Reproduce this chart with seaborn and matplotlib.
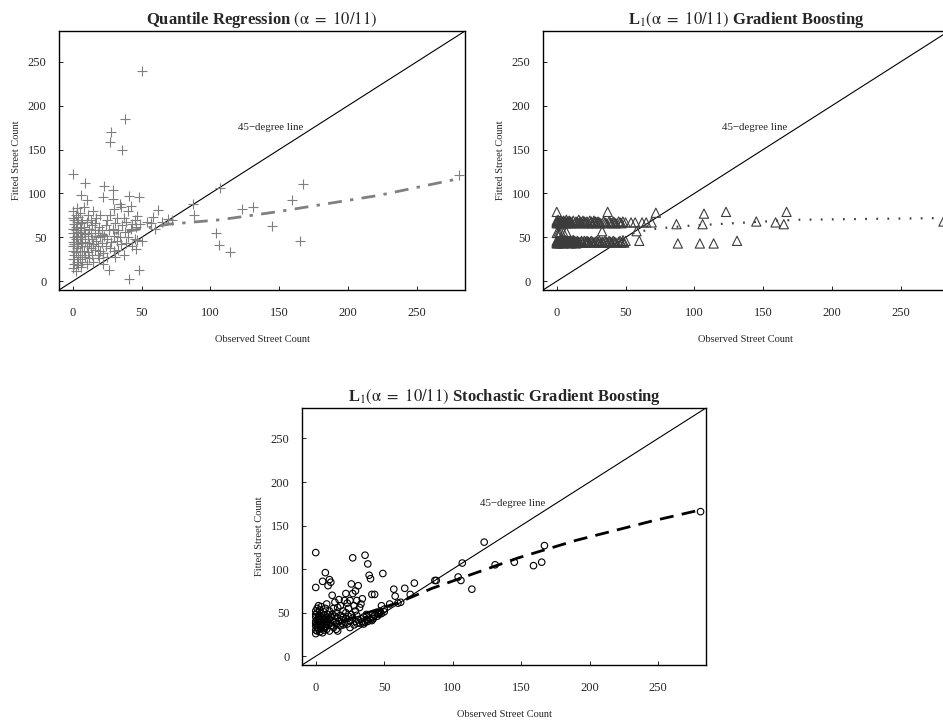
import matplotlib
matplotlib.use("Agg")
import matplotlib.pyplot as plt
import numpy as np
import pandas as pd
import seaborn as sns

# ── Data ──────────────────────────────────────────────────────────────────────
# observed street counts, shared by all three panels
OBSERVED = [
    0, 0, 0, 0, 0, 0, 0, 0, 0, 0,
    1, 1, 1, 1, 1, 1,
    2, 2, 2, 2, 2, 2,
    3, 3, 3, 3, 3, 3,
    4, 4, 4, 4, 4,
    5, 5, 5, 5, 5,
    6, 6, 6, 6, 6,
    7, 7, 7, 7, 7,
    8, 8, 8, 8,
    9, 9, 9, 9,
    10, 10, 10, 10,
    11, 11, 11, 12, 12, 12, 13, 13, 13, 14, 14, 14, 15, 15, 15, 16, 16, 16,
    17, 17, 18, 18, 18, 19, 19, 20, 20, 20, 21, 21, 22, 22, 22, 23, 23,
    24, 24, 25, 25, 25, 26, 26, 27, 27, 27, 28, 28, 29, 29, 29, 30, 30, 30,
    31, 31, 32, 32, 33, 33, 34, 34, 35, 35, 36, 36, 37, 37, 38, 38, 39, 39,
    40, 40, 41, 41, 42, 42, 43, 43, 45, 45, 46, 46, 47, 47, 48, 48, 49, 50, 50,
    54, 57, 58, 60, 62, 65, 69, 72, 87, 88,
    104, 106, 107, 114, 123, 131, 145, 159, 165, 167, 281,
]

FITTED_QR = [
    45, 60, 72, 35, 122, 25, 55, 80, 15, 40,
    50, 65, 30, 20, 70, 42,
    58, 12, 48, 75, 33, 62,
    52, 22, 83, 38, 67, 45,
    28, 56, 18, 73, 42,
    61, 35, 50, 25, 78,
    44, 98, 16, 66, 55,
    30, 48, 70, 40, 22,
    58, 85, 35, 62,
    112, 45, 28, 54,
    93, 68, 40, 20,
    52, 75, 33, 60, 44, 26, 70, 38, 55, 48, 30, 64, 42, 80, 22, 58, 36, 66,
    46, 72, 30, 55, 40, 62, 26, 50, 35, 76, 44, 58, 96, 32, 20, 108, 52,
    64, 40, 28, 70, 48, 13, 58, 159, 38, 75, 170, 45, 104, 94, 60, 35, 82, 52,
    66, 28, 46, 72, 58, 36, 88, 50, 85, 42, 150, 64, 72, 30, 185, 56, 44, 68,
    80, 50, 97, 3, 86, 60, 40, 65, 70, 48, 37, 62, 47, 74, 96, 13, 65, 240, 46,
    67, 66, 73, 60, 81, 68, 71, 70, 88, 76,
    55, 41, 106, 33, 82, 85, 63, 93, 46, 111, 121,
]

FITTED_GB = [
    44, 67, 46, 68, 79, 45, 55, 66, 43, 69,
    46, 67, 55, 44, 70, 45,
    68, 43, 46, 66, 55, 44,
    67, 45, 69, 44, 56, 46,
    66, 44, 47, 68, 45,
    67, 43, 55, 46, 69,
    44, 66, 45, 68, 47,
    67, 44, 56, 46, 70,
    45, 68, 44, 66,
    67, 46, 44, 69,
    68, 45, 43, 66,
    46, 67, 44, 69, 45, 47, 66, 44, 46, 68, 45, 43, 67, 46, 44, 70, 45, 66,
    44, 68, 46, 67, 45, 69, 44, 66, 46, 68, 45, 67, 68, 44, 46, 66, 45,
    69, 44, 67, 46, 68, 45, 66, 67, 44, 69, 68, 45, 66, 46, 67, 44, 68, 45,
    67, 46, 44, 66, 57, 45, 68, 44, 67, 46, 66, 45, 79, 44, 68, 46, 67, 45,
    66, 44, 68, 46, 67, 45, 66, 44, 68, 45, 67, 46, 66, 44, 68, 45, 44, 67, 46,
    67, 67, 57, 46, 67, 67, 67, 78, 65, 43,
    43, 65, 77, 43, 79, 46, 68, 67, 65, 79, 68,
]

FITTED_SGB = [
    30, 40, 52, 35, 119, 26, 45, 79, 38, 48,
    33, 42, 55, 29, 37, 50,
    44, 31, 36, 58, 47, 40,
    34, 43, 53, 28, 39, 46,
    36, 49, 41, 32, 57,
    86, 27, 38, 45, 35,
    51, 42, 34, 30, 47,
    96, 39, 44, 33, 55,
    37, 60, 42, 31,
    81, 48, 36, 40,
    88, 43, 29, 52,
    85, 45, 38, 70, 35, 48, 41, 55, 33, 62, 39, 46, 37, 50, 31, 29, 44, 56,
    40, 65, 35, 47, 58, 38, 42, 52, 36, 45, 64, 39, 72, 43, 50, 61, 37,
    46, 55, 64, 41, 33, 83, 48, 113, 72, 44, 58, 36, 75, 40, 52, 64, 38, 47,
    81, 42, 38, 56, 43, 60, 40, 66, 45, 37, 116, 39, 48, 42, 106, 40, 93, 44,
    89, 42, 41, 71, 45, 43, 71, 47, 49, 46, 50, 48, 52, 50, 58, 49, 95, 54, 51,
    60, 77, 69, 61, 62, 78, 71, 84, 87, 87,
    91, 87, 107, 77, 131, 105, 108, 104, 108, 127, 166,
]

# smoothed fits drawn through each panel
QR_FIT_X = [15, 36, 70, 107, 148, 223, 281]
QR_FIT_Y = [50, 56, 65, 70, 79, 98, 117]
GB_FIT_X = [40, 44, 58, 73, 94, 116, 174, 281]
GB_FIT_Y = [46, 49, 56, 60, 63, 65, 70, 72]
SGB_FIT_X = [20, 34, 61, 85, 112, 148, 190, 245, 281]
SGB_FIT_Y = [40, 48, 62, 78, 93, 113, 133, 155, 168]

TICKS = [0, 50, 100, 150, 200, 250]
LIMITS = (-10, 285)

TITLES = [
    r"Quantile Regression $(\mathrm{\alpha}\ =\ 10/11)$",
    r"L$_1(\mathrm{\alpha}\ =\ 10/11)$ Gradient Boosting",
    r"L$_1(\mathrm{\alpha}\ =\ 10/11)$ Stochastic Gradient Boosting",
]

# ── Style ────────────────────────────────────────────────────────────────────
sns.set_style("ticks")
plt.rcParams["font.family"] = ["Liberation Serif", "DejaVu Serif"]
plt.rcParams["mathtext.fontset"] = "stix"

df = pd.DataFrame({
    "observed": OBSERVED,
    "qr": FITTED_QR,
    "gb": FITTED_GB,
    "sgb": FITTED_SGB,
})

fig = plt.figure(figsize=(9.43, 7.2), dpi=100)
ax1 = fig.add_axes([0.0626, 0.5972, 0.4305, 0.3597])
ax2 = fig.add_axes([0.5758, 0.5972, 0.4305, 0.3597])
ax3 = fig.add_axes([0.3203, 0.0764, 0.4284, 0.3570])

# panel 1: quantile regression
sns.scatterplot(data=df, x="observed", y="qr", ax=ax1, marker="+",
                color="#7f7f7f", s=45, linewidth=0.8, zorder=3)
sns.lineplot(x=QR_FIT_X, y=QR_FIT_Y, ax=ax1, color="#808080", linewidth=2.0,
             linestyle=(0, (5, 3, 1.2, 3)), zorder=4)

# panel 2: gradient boosting
sns.scatterplot(data=df, x="observed", y="gb", ax=ax2, marker="^",
                facecolor="none", edgecolor="#3c3c3c", s=44, linewidth=0.8,
                zorder=3)
sns.lineplot(x=GB_FIT_X, y=GB_FIT_Y, ax=ax2, color="#404040", linewidth=1.6,
             linestyle=(0, (0.8, 4.2)), zorder=4)

# panel 3: stochastic gradient boosting
sns.scatterplot(data=df, x="observed", y="sgb", ax=ax3, marker="o",
                facecolor="none", edgecolor="black", s=22, linewidth=0.8,
                zorder=3)
sns.lineplot(x=SGB_FIT_X, y=SGB_FIT_Y, ax=ax3, color="black", linewidth=2.0,
             linestyle=(0, (5, 3)), zorder=4)

for ax, title in zip([ax1, ax2, ax3], TITLES):
    ax.axline((0, 0), slope=1, color="black", linewidth=0.8, zorder=2)
    ax.text(120, 175, "45\u2212degree line", fontsize=7.8, ha="left",
            va="center")
    ax.set_xlim(LIMITS)
    ax.set_ylim(LIMITS)
    ax.set_xticks(TICKS)
    ax.set_yticks(TICKS)
    ax.tick_params(direction="in", length=3, width=0.6, labelsize=9,
                   color="black")
    ax.tick_params(axis="x", pad=12)
    ax.tick_params(axis="y", pad=9)
    for sp in ax.spines.values():
        sp.set_visible(True)
        sp.set_color("black")
        sp.set_linewidth(1.0)
    ax.set_xlabel("Observed Street Count", fontsize=7.5, labelpad=12)
    ax.set_ylabel("Fitted Street Count", fontsize=7.5, labelpad=5)
    ax.set_title(title, fontsize=12, fontweight="bold", pad=5)

fig.savefig("out.png", dpi=100)
plt.close(fig)
